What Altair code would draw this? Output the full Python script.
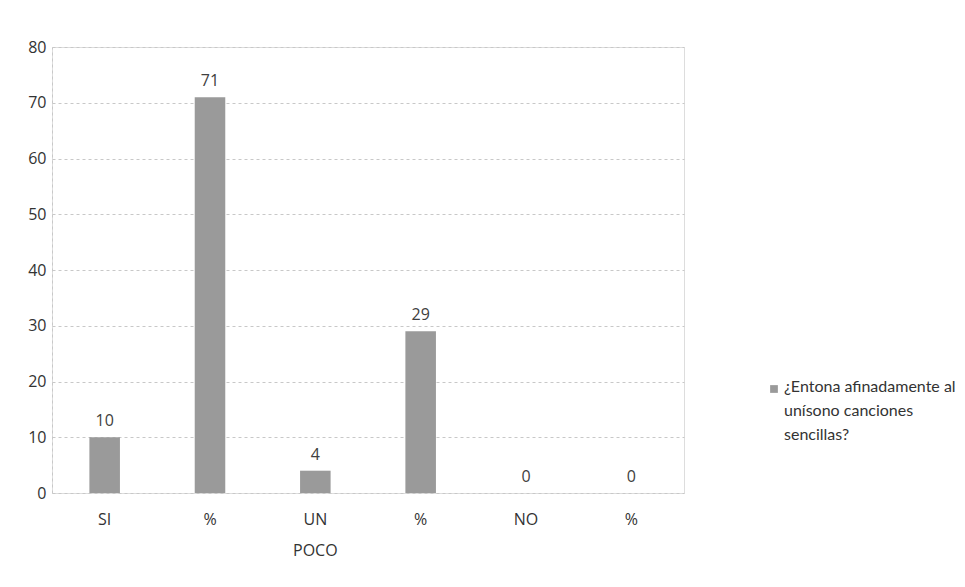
import json
import altair as alt
import pandas as pd

categories = ["SI", "%", "UN POCO", "%", "NO", "%"]
values = [10, 71, 4, 29, 0, 0]
series_name = "¿Entona afinadamente al unísono canciones sencillas?"
legend_lines = ["¿Entona afinadamente al", "unísono canciones", "sencillas?"]
y_ticks = [0, 10, 20, 30, 40, 50, 60, 70, 80]

df = pd.DataFrame({
    "idx": list(range(len(categories))),
    "cat": categories,
    "value": values,
    "serie": [series_name] * len(categories),
})
legend_df = pd.DataFrame({"serie": [series_name], "label": ["\n".join(legend_lines)]})

x_label_expr = json.dumps([c.split(" ") for c in categories]) + "[datum.value]"

FONT = "Open Sans"
BAR = "#9a9a9a"

x = alt.X(
    "idx:O",
    scale=alt.Scale(paddingInner=0.71, paddingOuter=0.355),
    axis=alt.Axis(
        title=None, labelAngle=0, labelExpr=x_label_expr, labelFontSize=16,
        labelColor="#333333", labelFont=FONT, ticks=False, domain=False,
        labelPadding=18, labelLineHeight=31, grid=False,
    ),
)
y = alt.Y(
    "value:Q",
    scale=alt.Scale(domain=[0, 80], nice=False),
    axis=alt.Axis(
        title=None, values=y_ticks, labelFontSize=16, labelColor="#333333",
        labelFont=FONT, ticks=False, domain=True, domainColor="#c8c8c8",
        domainDash=[3, 3], labelPadding=6,
        grid=True, gridColor="#c8c8c8", gridDash=[3, 3], gridWidth=1,
    ),
)

bars = alt.Chart(df).mark_bar().encode(
    x=x,
    y=y,
    color=alt.Color("serie:N", scale=alt.Scale(range=[BAR]), legend=None),
)

labels = alt.Chart(df).mark_text(
    baseline="bottom", dy=-8, fontSize=16, font=FONT, color="#404040"
).encode(x=x, y=y, text=alt.Text("value:Q"))

legend_symbol = alt.Chart(legend_df).mark_point(
    shape="square", filled=True, size=60, opacity=1
).encode(
    x=alt.value(722), y=alt.value(342),
    color=alt.Color("serie:N", scale=alt.Scale(range=[BAR]), legend=None),
)
legend_text = alt.Chart(legend_df).mark_text(
    align="left", baseline="top", lineBreak="\n", lineHeight=24,
    fontSize=16, font="Lato", color="#333333",
).encode(x=alt.value(732), y=alt.value(332), text="label:N")

chart = (bars + labels + legend_symbol + legend_text).properties(
    width=632,
    height=446,
    autosize=alt.AutoSizeParams(type="none"),
    padding={"left": 44, "top": 39, "right": 273, "bottom": 86},
).configure_view(stroke="transparent", strokeWidth=0).configure(background="white")

chart.save("out.html", embed_options={"renderer": "svg", "actions": False})
